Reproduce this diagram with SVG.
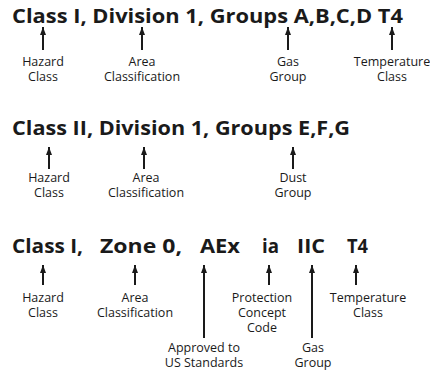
<svg xmlns="http://www.w3.org/2000/svg" width="430" height="374" viewBox="0 0 430 374">
<style>
.t{font-family:"Open Sans","Liberation Sans",sans-serif;font-weight:bold;font-size:19.5px;fill:#1a1a1a}
.l{font-family:"Open Sans","Liberation Sans",sans-serif;font-size:12.5px;fill:#1a1a1a;text-anchor:middle}
.a{stroke:#1a1a1a;stroke-width:2;fill:none;marker-end:url(#ah)}
</style>
<defs>
<marker id="ah" viewBox="0 0 8 6" refX="8" refY="3" markerWidth="4" markerHeight="3" markerUnits="strokeWidth" orient="auto">
<path d="M0,0L8,3L0,6z" fill="#1a1a1a"/>
</marker>
</defs>
<rect width="430" height="374" fill="#fff"/>
<g id="title1"><text class="t" x="12" y="22.5" textLength="391" lengthAdjust="spacingAndGlyphs">Class I, Division 1, Groups A,B,C,D T4</text></g>
<g id="title2"><text class="t" x="12" y="135" textLength="338" lengthAdjust="spacingAndGlyphs">Class II, Division 1, Groups E,F,G</text></g>
<g id="title3">
<text class="t" x="12" y="253" textLength="71" lengthAdjust="spacingAndGlyphs">Class I,</text>
<text class="t" x="100" y="253" textLength="82" lengthAdjust="spacingAndGlyphs">Zone 0,</text>
<text class="t" x="200" y="253" textLength="40" lengthAdjust="spacingAndGlyphs">AEx</text>
<text class="t" x="262" y="253" textLength="17" lengthAdjust="spacingAndGlyphs">ia</text>
<text class="t" x="297" y="253" textLength="28" lengthAdjust="spacingAndGlyphs">IIC</text>
<text class="t" x="347" y="253" textLength="21" lengthAdjust="spacingAndGlyphs">T4</text>
</g>
<g id="connectors">
<path class="a" d="M43,50V27"/>
<path class="a" d="M142,50V27"/>
<path class="a" d="M288,50V27"/>
<path class="a" d="M392,50V27"/>
<path class="a" d="M49,169V147"/>
<path class="a" d="M144,169V147"/>
<path class="a" d="M293,169V147"/>
<path class="a" d="M43,285V265"/>
<path class="a" d="M135,285V265"/>
<path class="a" d="M204,338V265"/>
<path class="a" d="M269,285V265"/>
<path class="a" d="M312,338V265"/>
<path class="a" d="M356,285V265"/>
</g>
<g id="r1-hazard"><text class="l" x="43" y="66">Hazard</text><text class="l" x="43" y="81">Class</text></g>
<g id="r1-area"><text class="l" x="142" y="66">Area</text><text class="l" x="142" y="81">Classification</text></g>
<g id="r1-gas"><text class="l" x="288" y="66">Gas</text><text class="l" x="288" y="81">Group</text></g>
<g id="r1-temp"><text class="l" x="392" y="66">Temperature</text><text class="l" x="392" y="81">Class</text></g>
<g id="r2-hazard"><text class="l" x="49" y="182">Hazard</text><text class="l" x="49" y="197">Class</text></g>
<g id="r2-area"><text class="l" x="146" y="182">Area</text><text class="l" x="146" y="197">Classification</text></g>
<g id="r2-dust"><text class="l" x="293" y="182">Dust</text><text class="l" x="293" y="197">Group</text></g>
<g id="r3-hazard"><text class="l" x="43" y="302">Hazard</text><text class="l" x="43" y="317">Class</text></g>
<g id="r3-area"><text class="l" x="135" y="302">Area</text><text class="l" x="135" y="317">Classification</text></g>
<g id="r3-prot"><text class="l" x="262" y="302">Protection</text><text class="l" x="262" y="317">Concept</text><text class="l" x="262" y="332">Code</text></g>
<g id="r3-temp"><text class="l" x="368" y="302">Temperature</text><text class="l" x="368" y="317">Class</text></g>
<g id="r3-approved"><text class="l" x="204" y="352">Approved to</text><text class="l" x="204" y="367">US Standards</text></g>
<g id="r3-gas"><text class="l" x="313" y="352">Gas</text><text class="l" x="313" y="367">Group</text></g>
</svg>
